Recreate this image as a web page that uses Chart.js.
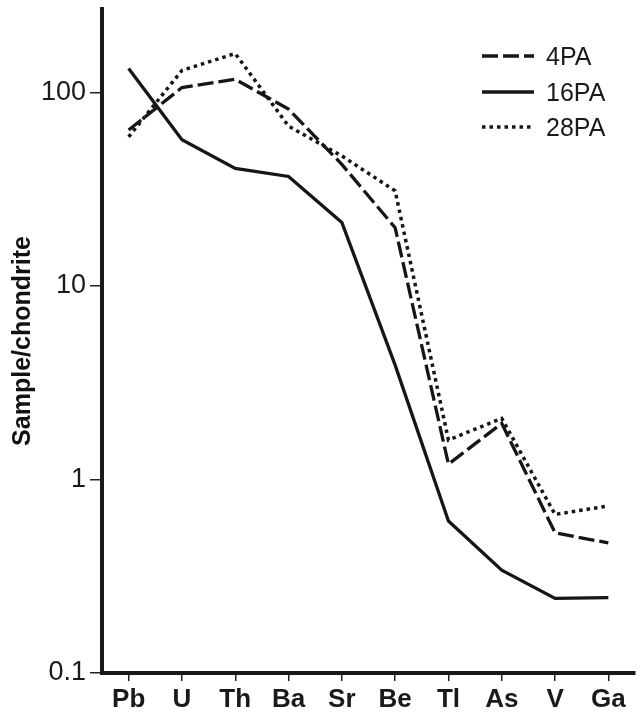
<!DOCTYPE html>
<html>
<head>
<meta charset="utf-8">
<script src="https://cdn.jsdelivr.net/npm/chart.js@4.4.1/dist/chart.umd.min.js"></script>
<style>
  html, body { margin: 0; padding: 0; background: #fff; }
  #wrap { width: 639px; height: 714px; }
</style>
</head>
<body>
<div id="wrap"><canvas id="chart"></canvas></div>
<script>
// 원소 (x축)
const elements = ['Pb', 'U', 'Th', 'Ba', 'Sr', 'Be', 'Tl', 'As', 'V', 'Ga'];

// 시료별 값 (Sample/chondrite)
const pa4 = [64, 106, 117, 82, 42.5, 20, 1.2, 1.95, 0.53, 0.47];
const pa16 = [133, 57, 40.5, 36.8, 21.3, 3.9, 0.61, 0.34, 0.243, 0.245];
const pa28 = [59, 130, 159, 67, 47, 31, 1.6, 2.07, 0.66, 0.73];

const yTicks = [0.1, 1, 10, 100];

const ink = '#161616';
const fontFamily = '"Liberation Sans", Arial, sans-serif';

// 범례 직접 그리기
const lineLegend = {
    id: 'lineLegend',
    afterDraw(chart) {
        const ctx = chart.ctx;
        const x0 = 482, x1 = 534, tx = 546;
        const rows = [56, 92, 127];
        ctx.save();
        chart.data.datasets.forEach((ds, i) => {
            const y = rows[i];
            ctx.beginPath();
            ctx.setLineDash(ds.borderDash || []);
            ctx.lineWidth = ds.borderWidth;
            ctx.strokeStyle = ink;
            ctx.moveTo(x0, y);
            ctx.lineTo(x1, y);
            ctx.stroke();
            ctx.setLineDash([]);
            ctx.fillStyle = '#1a1a1a';
            ctx.font = '25px ' + fontFamily;
            ctx.textBaseline = 'middle';
            ctx.fillText(ds.label, tx, y + 2);
        });
        ctx.restore();
    }
};

new Chart(document.getElementById('chart'), {
    type: 'line',
    data: {
        labels: elements,
        datasets: [
            { label: '4PA', data: pa4, borderColor: ink, borderWidth: 3.3, borderDash: [16, 5], pointRadius: 0, tension: 0 },
            { label: '16PA', data: pa16, borderColor: ink, borderWidth: 3.3, pointRadius: 0, tension: 0 },
            { label: '28PA', data: pa28, borderColor: ink, borderWidth: 3.5, borderDash: [3.5, 4], pointRadius: 0, tension: 0 }
        ]
    },
    options: {
        responsive: true,
        maintainAspectRatio: false,
        animation: false,
        layout: { padding: { top: 9, right: 4, left: 0, bottom: 0 } },
        plugins: {
            legend: { display: false },
            tooltip: { enabled: false }
        },
        scales: {
            x: {
                offset: true,
                grid: { drawOnChartArea: false, drawTicks: true, tickLength: 8, color: '#222', lineWidth: 1.5 },
                border: { display: true, width: 4, color: '#1a1a1a' },
                ticks: {
                    color: '#1a1a1a',
                    padding: 3,
                    font: { family: fontFamily, size: 26, weight: 'bold' }
                },
                afterFit(scale) { scale.height = 41; }
            },
            y: {
                type: 'logarithmic',
                min: 0.1,
                max: 270,
                grid: { drawOnChartArea: false, drawTicks: true, tickLength: 12, color: '#222', lineWidth: 1.5 },
                border: { display: true, width: 4, color: '#1a1a1a' },
                afterBuildTicks(scale) {
                    scale.ticks = yTicks.map(v => ({ value: v }));
                },
                ticks: {
                    color: '#1a1a1a',
                    padding: 4,
                    font: { family: fontFamily, size: 27, lineHeight: 0.1 },
                    callback: v => String(v)
                },
                title: {
                    display: true,
                    text: 'Sample/chondrite',
                    color: '#111',
                    padding: { top: 8, bottom: 0 },
                    font: { family: fontFamily, size: 25, weight: 'bold' }
                },
                afterFit(scale) { scale.width = 102; }
            }
        }
    },
    plugins: [lineLegend]
});
</script>
</body>
</html>
